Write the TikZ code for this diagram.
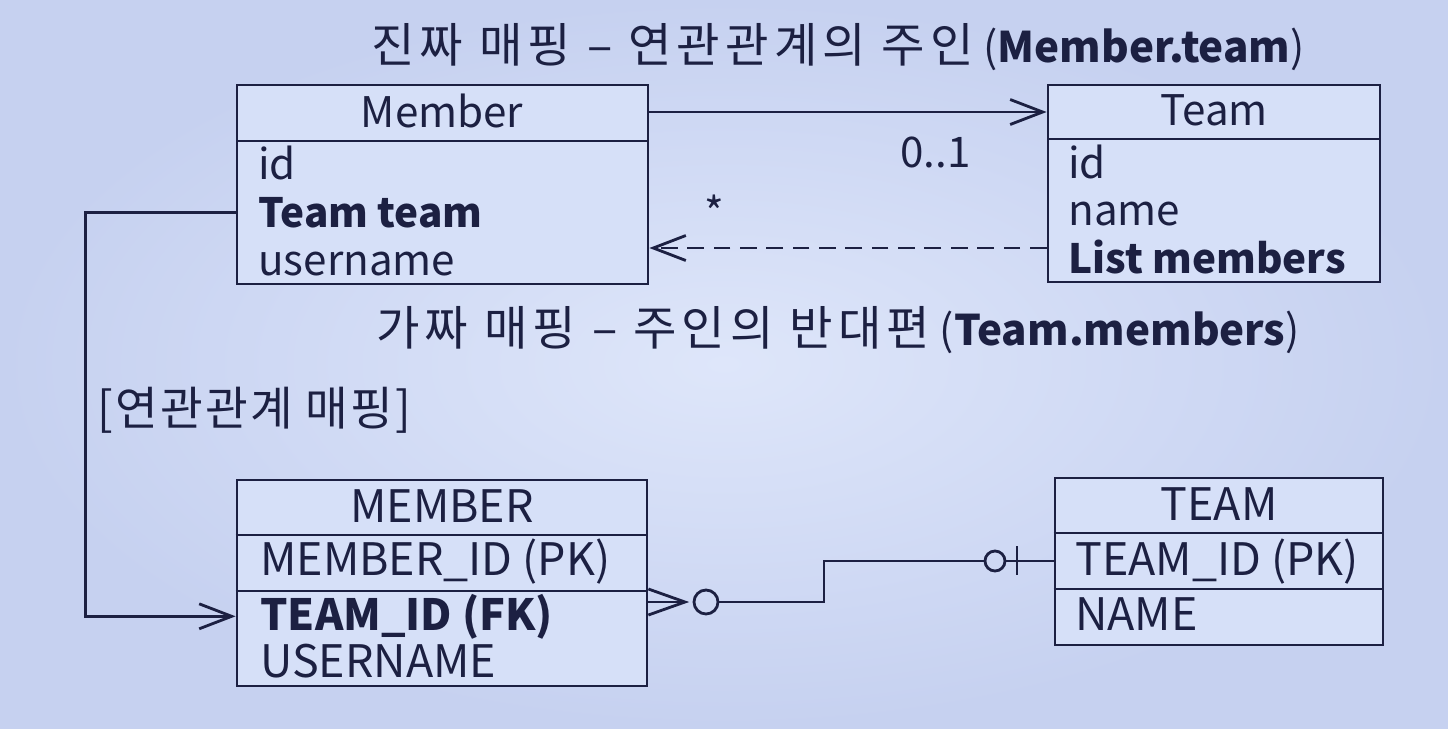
\documentclass[tikz,border=0pt]{standalone}
\usepackage{fontspec}
\setmainfont{Noto Sans CJK KR}
\newfontfamily\krfont[Scale=1.12, LetterSpace=11]{Noto Sans CJK KR}
\newfontfamily\krlabel[Scale=1.1, LetterSpace=5]{Noto Sans CJK KR}
\usepackage{tikz}
\usetikzlibrary{arrows.meta}
\usetikzlibrary{fit}

\definecolor{ink}{RGB}{28,32,66}
\definecolor{bgedge}{RGB}{198,209,240}
\definecolor{bgmid}{RGB}{222,230,250}
\definecolor{boxblue}{RGB}{214,224,248}

\begin{document}
\begin{tikzpicture}[x=0.02cm, y=-0.02cm,
    box/.style={draw=ink, line width=1.6pt, fill=boxblue, inner sep=0pt},
    link/.style={draw=ink, line width=1.6pt},
    tip/.style={-{Straight Barb[length=6.5mm,width=5mm]}},
    row/.style={anchor=base west, text=ink, inner sep=0pt, font=\fontsize{24}{29}\selectfont},
    keyrow/.style={row, font=\fontsize{23}{29}\selectfont\bfseries},
    col/.style={row, font=\fontsize{25.5}{29}\selectfont},
    keycol/.style={row, font=\fontsize{24.5}{29}\selectfont\bfseries},
    head/.style={anchor=base, text=ink, inner sep=0pt, font=\fontsize{24}{29}\selectfont},
    title/.style={anchor=base, text=ink, inner sep=0pt, font=\fontsize{24}{29}\selectfont}]

    % background
    \useasboundingbox (0,0) rectangle (1448,728);
    \shade[inner color=bgmid, outer color=bgedge] (0,0) rectangle (1448,728);

    % titles
    \node[title] (realmap) at (838,62) {{\krfont 진짜 매핑 – 연관관계의 주인} (\textbf{Member.team})};
    \node[title] (fakemap) at (838,345) {{\krfont 가짜 매핑 – 주인의 반대편} (\textbf{Team.members})};
    \node[row] (maplabel) at (97,425) {\krlabel [연관관계 매핑]};

    % object model
    \node[box, fit={(237,85) (648,284)}] (memberclass) {};
    \node[box, fit={(1048,85) (1380,282)}] (teamclass) {};
    \draw[link] (237,141) -- (648,141);
    \draw[link] (1048,139) -- (1380,139);

    \node[head] (membername) at (442,127) {Member};
    \node[row] (mid) at (258,179) {id};
    \node[keyrow] (mteam) at (258,227) {Team team};
    \node[row] (muser) at (258,275) {username};

    \node[head] (teamname) at (1214,125) {Team};
    \node[row] (tid) at (1068,178) {id};
    \node[row] (tname) at (1068,225) {name};
    \node[keyrow] (tmembers) at (1068,273) {List members};

    \draw[link, tip] (memberclass.east |- 0,112) -- (teamclass.west |- 0,112);
    \node[row] (one) at (900,167) {0..1};
    \node[row] (many) at (704,228) {*};
    \draw[link, tip, dash pattern=on 9.5pt off 5.5pt] (teamclass.west |- 0,248) -- (memberclass.east |- 0,248);

    % tables
    \node[box, fit={(237,480) (647,686)}] (membertable) {};
    \node[box, fit={(1055,478) (1383,645)}] (teamtable) {};
    \foreach \y in {535,591}
        \draw[link] (membertable.west |- 0,\y) -- (membertable.east |- 0,\y);
    \foreach \y in {533,589}
        \draw[link] (teamtable.west |- 0,\y) -- (teamtable.east |- 0,\y);

    \node[head, font=\fontsize{25.5}{29}\selectfont] (MEMBERname) at (442,522) {MEMBER};
    \node[col] (mpk) at (260,575) {MEMBER\_ID (PK)};
    \node[keycol] (mfk) at (260,630) {TEAM\_ID (FK)};
    \node[col] (musername) at (260,677) {USERNAME};

    \node[head, font=\fontsize{25.5}{29}\selectfont] (TEAMname) at (1219,520) {TEAM};
    \node[col] (tpk) at (1075,575) {TEAM\_ID (PK)};
    \node[col] (tnamecol) at (1075,630) {NAME};

    % mapping of the foreign key
    \draw[link, tip] (memberclass.west |- mteam) -- ++(-150,0) |- (membertable.west |- mfk);

    % many, optional
    \coordinate (crow) at (685,602);
    \draw[link] (membertable.east |- 0,589) -- (crow) -- (membertable.east |- 0,615);
    \draw[link] (membertable.east |- crow) -- (crow);
    \node[circle, draw=ink, line width=1.6pt, minimum size=0.48cm, inner sep=0pt] (manyring) at (706,602) {};
    % one, optional
    \node[circle, draw=ink, line width=1.6pt, minimum size=0.4cm, inner sep=0pt] (onering) at (995,561) {};
    \draw[link] (manyring.east) -- (824,602) |- (onering.west);
    \draw[link] (onering.east) -- (teamtable.west |- onering);
    \draw[link] (1017,546) -- (1017,575);
\end{tikzpicture}
\end{document}
